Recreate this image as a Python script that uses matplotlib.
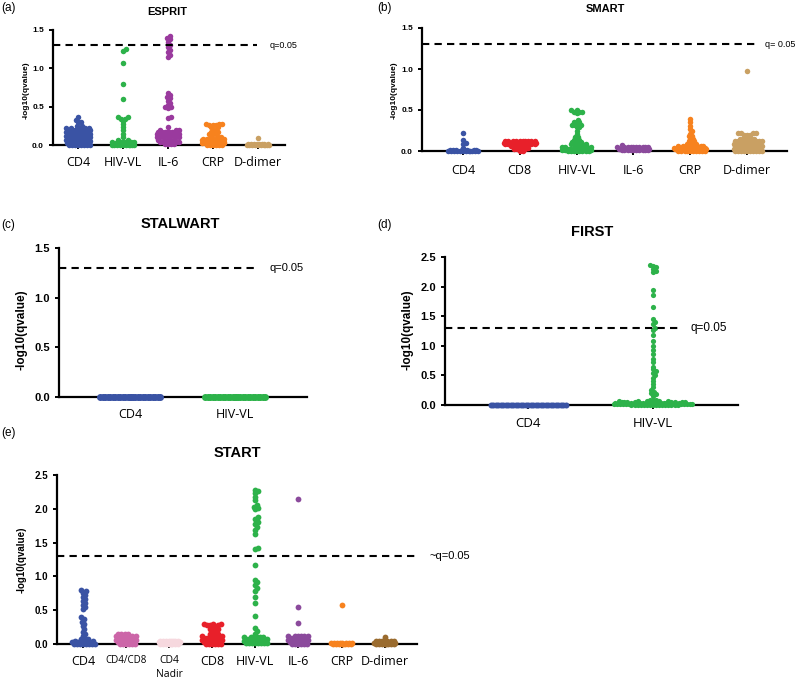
import numpy as np
import matplotlib
matplotlib.use('Agg')
import matplotlib.pyplot as plt

# -log10(q) values, as (value, how many dots) pairs
# ESPRIT
esprit_cats = ['CD4', 'HIV-VL', 'IL-6', 'CRP', 'D-dimer']
esprit_cd4_v = [0.37, 0.33, 0.30, 0.25, 0.22, 0.20, 0.17, 0.15, 0.12, 0.10, 0.07, 0.05, 0.03, 0.0]
esprit_cd4_n = [1, 1, 2, 2, 5, 8, 8, 8, 8, 8, 8, 8, 8, 8]
esprit_hiv_v = [1.25, 1.23, 1.07, 0.79, 0.60, 0.36, 0.34, 0.31, 0.27, 0.23, 0.19, 0.15, 0.11, 0.07, 0.04, 0.02, 0.0]
esprit_hiv_n = [1, 1, 1, 1, 1, 2, 2, 1, 1, 1, 1, 1, 1, 2, 6, 8, 10]
esprit_il6_v = [1.42, 1.40, 1.38, 1.35, 1.31, 1.28, 1.24, 1.21, 1.18, 1.15, 0.68, 0.65, 0.63, 0.61,
                0.58, 0.55, 0.52, 0.50, 0.48, 0.37, 0.35, 0.24, 0.19, 0.17, 0.15, 0.13, 0.10, 0.07, 0.04, 0.01]
esprit_il6_n = [1, 1, 1, 1, 1, 1, 1, 1, 1, 1, 1, 1, 1, 1,
                1, 1, 1, 2, 1, 1, 1, 1, 3, 8, 10, 8, 6, 5, 4, 4]
esprit_crp_v = [0.28, 0.26, 0.23, 0.20, 0.17, 0.14, 0.11, 0.08, 0.06, 0.04, 0.02, 0.0]
esprit_crp_n = [3, 3, 2, 2, 2, 3, 3, 5, 8, 8, 8, 6]
esprit_dd_v = [0.09, 0.01, 0.0]
esprit_dd_n = [1, 8, 10]

# SMART
smart_cats = ['CD4', 'CD8', 'HIV-VL', 'IL-6', 'CRP', 'D-dimer']
smart_cd4_v = [0.22, 0.13, 0.10, 0.08, 0.04, 0.01, 0.0]
smart_cd4_n = [1, 1, 1, 1, 1, 8, 12]
smart_cd8_v = [0.12, 0.10, 0.08, 0.06, 0.04, 0.02, 0.0]
smart_cd8_n = [10, 12, 10, 4, 3, 3, 2]
smart_hiv_v = [0.50, 0.48, 0.46, 0.38, 0.35, 0.32, 0.29, 0.25, 0.21, 0.17, 0.14, 0.11, 0.08, 0.05, 0.03, 0.01, 0.0]
smart_hiv_n = [2, 3, 1, 1, 3, 4, 2, 1, 1, 2, 3, 4, 6, 8, 10, 10, 8]
smart_il6_v = [0.07, 0.05, 0.03, 0.01]
smart_il6_n = [1, 10, 12, 10]
smart_crp_v = [0.39, 0.35, 0.31, 0.27, 0.24, 0.21, 0.18, 0.15, 0.12, 0.09, 0.06, 0.04, 0.02, 0.0]
smart_crp_n = [1, 1, 1, 1, 1, 1, 2, 2, 3, 4, 8, 10, 12, 10]
smart_dd_v = [0.97, 0.22, 0.20, 0.15, 0.12, 0.09, 0.06, 0.03, 0.0]
smart_dd_n = [1, 4, 3, 6, 10, 10, 10, 10, 10]

# STALWART
stalwart_cats = ['CD4', 'HIV-VL']
stalwart_cd4_v = [0.0]
stalwart_cd4_n = [26]
stalwart_hiv_v = [0.0]
stalwart_hiv_n = [26]

# FIRST
first_cats = ['CD4', 'HIV-VL']
first_cd4_v = [0.0]
first_cd4_n = [31]
first_hiv_v = [2.37, 2.35, 2.33, 2.30, 2.27, 2.24, 1.95, 1.85, 1.65, 1.45, 1.41, 1.37, 1.30, 1.26, 1.18,
               1.08, 1.00, 0.93, 0.86, 0.78, 0.73, 0.65, 0.60, 0.57, 0.54, 0.50, 0.46, 0.40, 0.35, 0.30,
               0.25, 0.22, 0.20, 0.18, 0.16, 0.09, 0.07, 0.05, 0.03, 0.01, 0.0]
first_hiv_n = [1] * 35 + [3, 5, 8, 12, 18, 16]

# START
start_cats = ['CD4', 'CD4/CD8', 'CD4\nNadir', 'CD8', 'HIV-VL', 'IL-6', 'CRP', 'D-dimer']
start_cd4_v = [0.80, 0.78, 0.76, 0.73, 0.70, 0.67, 0.64, 0.61, 0.58, 0.55, 0.52, 0.40, 0.37, 0.33,
               0.30, 0.26, 0.22, 0.18, 0.15, 0.12, 0.08, 0.05, 0.03, 0.0]
start_cd4_n = [1] * 20 + [3, 3, 6, 8]
start_cd4cd8_v = [0.15, 0.12, 0.09, 0.06, 0.03, 0.0]
start_cd4cd8_n = [4, 6, 6, 6, 6, 6]
start_nadir_v = [0.05, 0.03, 0.0]
start_nadir_n = [8, 8, 8]
start_cd8_v = [0.30, 0.28, 0.25, 0.22, 0.19, 0.15, 0.12, 0.09, 0.06, 0.03, 0.0]
start_cd8_n = [3, 3, 2, 2, 2, 2, 4, 6, 6, 6, 6]
start_hiv_v = [2.28, 2.26, 2.23, 2.18, 2.13, 2.05, 2.03, 2.01, 1.99, 1.88, 1.85, 1.80, 1.77, 1.73, 1.69,
               1.62, 1.42, 1.40, 1.17, 0.95, 0.91, 0.87, 0.83, 0.79, 0.69, 0.60, 0.42, 0.24, 0.19, 0.15,
               0.10, 0.07, 0.04, 0.01]
start_hiv_n = [1] * 30 + [6, 8, 8, 8]
start_il6_v = [2.14, 0.55, 0.31, 0.12, 0.09, 0.06, 0.03, 0.0]
start_il6_n = [1, 1, 1, 6, 6, 6, 6, 6]
start_crp_v = [0.58, 0.02, 0.0]
start_crp_n = [1, 8, 8]
start_dd_v = [0.11, 0.04, 0.02, 0.0]
start_dd_n = [1, 6, 8, 8]

BLUE = '#3A53A4'
GREEN = '#2DB24A'
ORANGE = '#F7821E'

W, H = 800, 684
fig = plt.figure(figsize=(8, 6.84), dpi=100)


def swarm(vals, xpx, ypx, sp, hw):
    # simple beeswarm: offsets in pixels, capped at +-hw
    vals = np.sort(vals)
    steps = np.arange(sp * 0.25, hw + 0.01, sp * 0.25)
    cands = [0.0]
    for s in steps:
        cands += [s, -s]
    placed = []
    offs = []
    for v in vals:
        y = v * ypx
        best = None
        for c in cands:
            if all((c - px) ** 2 + (y - py) ** 2 >= sp ** 2 for px, py in placed):
                best = c
                break
        if best is None:
            best = max(cands, key=lambda c: min((c - px) ** 2 + (y - py) ** 2 for px, py in placed))
        placed.append((best, y))
        offs.append(best / xpx)
    return np.array(offs), vals


def panel(x0, x1, ytop, ybot, cat0, step, ymax, ncat):
    ax = fig.add_axes([x0 / W, 1 - ybot / H, (x1 - x0) / W, (ybot - ytop) / H])
    ax.set_xlim((x0 - cat0) / step, (x1 - cat0) / step)
    ax.set_ylim(0, ymax)
    ax.spines[['top', 'right']].set_visible(False)
    ax.spines[['left', 'bottom']].set_linewidth(1.6)
    ax.set_xticks(range(ncat))
    ax.tick_params(axis='both', width=1.4, length=3, color='black')
    ax.set_yticks(np.arange(0, ymax + 0.01, 0.5))
    ax.set_yticklabels(['%.1f' % t for t in np.arange(0, ymax + 0.01, 0.5)])
    ax.xpx = step
    ax.ypx = (ybot - ytop) / ymax
    ax.cat0 = cat0
    ax.step = step
    return ax


def draw(ax, i, v, n, color, hw, d=5.5, sp=2.8):
    vals = np.repeat(v, n)
    offs, vals = swarm(vals, ax.xpx, ax.ypx, sp, hw - d / 2)
    s = (d * 72 / 100) ** 2
    ax.scatter(i + offs, vals, s=s, color=color, linewidths=0, clip_on=False, zorder=3)


def qline(ax, xend_px, label_px, text, fs):
    x0 = ax.get_xlim()[0]
    xe = (xend_px - ax.cat0) / ax.step
    ax.plot([x0, xe], [1.3, 1.3], color='black', lw=1.5, dashes=(3.5, 2.5), clip_on=False, zorder=4)
    ax.text((label_px - ax.cat0) / ax.step, 1.3, text, fontsize=fs, va='center', ha='left',
            family='Liberation Sans', clip_on=False)


def style(ax, yfs, xfs):
    for lb in ax.get_yticklabels():
        lb.set_fontsize(yfs)
        lb.set_fontweight('bold')
        lb.set_family('Liberation Sans')
    for lb in ax.get_xticklabels():
        lb.set_fontsize(xfs)
        lb.set_family('Open Sans')


def ftext(x, y, s, **kw):
    fig.text(x / W, 1 - y / H, s, **kw)


# (a) ESPRIT
ax = panel(53, 285, 30, 145, 78, 45, 1.5, 5)
ax.set_xticklabels(esprit_cats)
draw(ax, 0, esprit_cd4_v, esprit_cd4_n, BLUE, 15)
draw(ax, 1, esprit_hiv_v, esprit_hiv_n, GREEN, 14)
draw(ax, 2, esprit_il6_v, esprit_il6_n, '#9A3A9E', 14)
draw(ax, 3, esprit_crp_v, esprit_crp_n, ORANGE, 14)
draw(ax, 4, esprit_dd_v, esprit_dd_n, '#C9A063', 14)
qline(ax, 257, 270, 'q=0.05', 6.5)
style(ax, 6, 9)
ax.tick_params(axis='x', pad=5)
ftext(167, 12, 'ESPRIT', fontsize=8, fontweight='bold', ha='center', va='center', family='Liberation Sans')
ftext(26, 90, '-log10(qvalue)', fontsize=6, fontweight='bold', rotation=90, ha='center', va='center', family='Liberation Sans')
ftext(1, 8, '(a)', fontsize=8.5, va='center', family='Liberation Sans')

# (b) SMART
ax = panel(422, 787, 28, 151, 463, 56.8, 1.5, 6)
ax.set_xticklabels(smart_cats)
draw(ax, 0, smart_cd4_v, smart_cd4_n, BLUE, 18)
draw(ax, 1, smart_cd8_v, smart_cd8_n, '#E8202A', 19)
draw(ax, 2, smart_hiv_v, smart_hiv_n, GREEN, 18)
draw(ax, 3, smart_il6_v, smart_il6_n, '#8B4A9C', 19)
draw(ax, 4, smart_crp_v, smart_crp_n, ORANGE, 19)
draw(ax, 5, smart_dd_v, smart_dd_n, '#C9A063', 19)
qline(ax, 757, 765, 'q= 0.05', 6.5)
style(ax, 6, 9)
ax.tick_params(axis='x', pad=6)
ftext(605, 9, 'SMART', fontsize=8, fontweight='bold', ha='center', va='center', family='Liberation Sans')
ftext(394, 90, '-log10(qvalue)', fontsize=6, fontweight='bold', rotation=90, ha='center', va='center', family='Liberation Sans')
ftext(377, 8, '(b)', fontsize=8.5, va='center', family='Liberation Sans')

# (c) STALWART
ax = panel(59, 307, 248, 397, 130, 105, 1.5, 2)
ax.set_xticklabels(stalwart_cats)
draw(ax, 0, stalwart_cd4_v, stalwart_cd4_n, BLUE, 34, d=7, sp=2.5)
draw(ax, 1, stalwart_hiv_v, stalwart_hiv_n, GREEN, 34, d=7, sp=2.5)
qline(ax, 255, 270, 'q=0.05', 8)
style(ax, 8, 9)
ax.tick_params(axis='x', pad=5)
ftext(180, 224, 'STALWART', fontsize=10.5, fontweight='bold', ha='center', va='center', family='Liberation Sans')
ftext(22, 330, '-log10(qvalue)', fontsize=8.5, fontweight='bold', rotation=90, ha='center', va='center', family='Liberation Sans')
ftext(1, 225, '(c)', fontsize=8.5, va='center', family='Liberation Sans')

# (d) FIRST
ax = panel(445, 738, 257, 405, 528, 125, 2.5, 2)
ax.set_xticklabels(first_cats)
draw(ax, 0, first_cd4_v, first_cd4_n, BLUE, 41, d=6, sp=2.5)
draw(ax, 1, first_hiv_v, first_hiv_n, GREEN, 42, d=5.2, sp=2.8)
qline(ax, 680, 690, 'q=0.05', 8.5)
style(ax, 8, 9.5)
ax.tick_params(axis='x', pad=6)
ftext(592, 232, 'FIRST', fontsize=10.5, fontweight='bold', ha='center', va='center', family='Liberation Sans')
ftext(407, 330, '-log10(qvalue)', fontsize=8.5, fontweight='bold', rotation=90, ha='center', va='center', family='Liberation Sans')
ftext(377, 225, '(d)', fontsize=8.5, va='center', family='Liberation Sans')

# (e) START
ax = panel(57, 417, 475, 644, 83, 43.1, 2.5, 8)
ax.set_xticklabels(start_cats, va='top', linespacing=1.3)
draw(ax, 0, start_cd4_v, start_cd4_n, BLUE, 15, d=5.8, sp=3.0)
draw(ax, 1, start_cd4cd8_v, start_cd4cd8_n, '#CC66A8', 14, d=5.8, sp=3.0)
draw(ax, 2, start_nadir_v, start_nadir_n, '#F6D8DE', 14, d=5.8, sp=3.0)
draw(ax, 3, start_cd8_v, start_cd8_n, '#E8202A', 14, d=5.8, sp=3.0)
draw(ax, 4, start_hiv_v, start_hiv_n, GREEN, 15, d=5.8, sp=3.0)
draw(ax, 5, start_il6_v, start_il6_n, '#8B4A9C', 14, d=5.8, sp=3.0)
draw(ax, 6, start_crp_v, start_crp_n, ORANGE, 14, d=5.8, sp=3.0)
draw(ax, 7, start_dd_v, start_dd_n, '#9A6B2E', 14, d=5.8, sp=3.0)
qline(ax, 415, 430, '~q=0.05', 8)
style(ax, 7, 9)
labs = ax.get_xticklabels()
labs[1].set_fontsize(7)
labs[2].set_fontsize(7.5)
ax.tick_params(axis='x', pad=5)
ftext(237, 453, 'START', fontsize=10.5, fontweight='bold', ha='center', va='center', family='Liberation Sans')
ftext(22, 560, '-log10(qvalue)', fontsize=7, fontweight='bold', rotation=90, ha='center', va='center', family='Liberation Sans')
ftext(1, 433, '(e)', fontsize=8.5, va='center', family='Liberation Sans')

fig.savefig('out.png', dpi=100)
